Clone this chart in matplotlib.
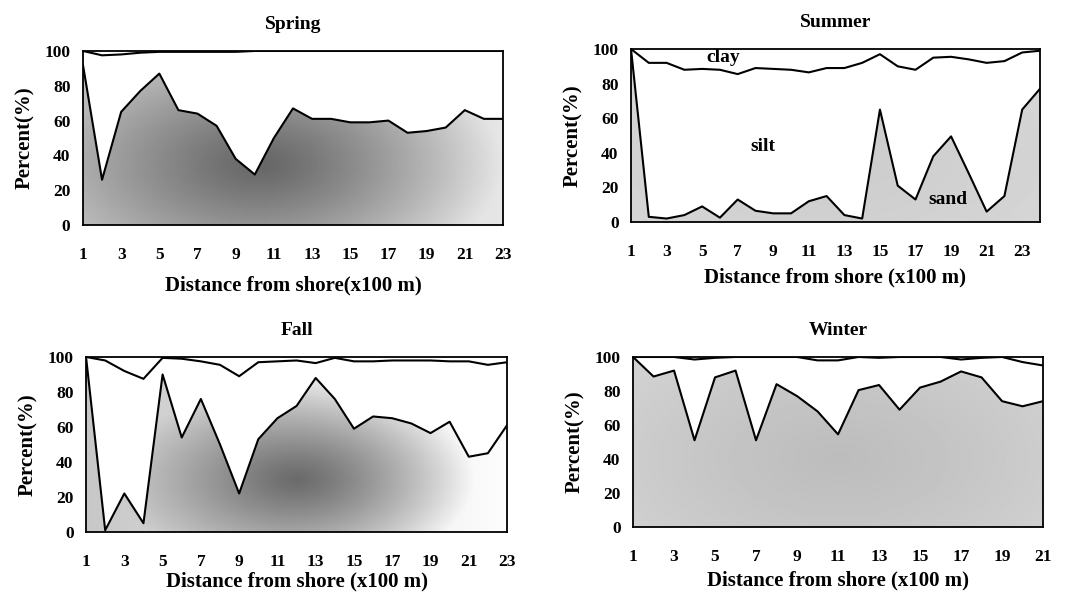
import numpy as np
import matplotlib
matplotlib.use("Agg")
import matplotlib.pyplot as plt
from matplotlib.patches import Polygon

plt.rcParams['font.family'] = ['Liberation Serif', 'DejaVu Serif']
plt.rcParams['font.weight'] = 'bold'

# sand (lower line) and sand+silt (upper line), percent
spring_x = list(range(1, 24))
spring_sand = [92, 26, 65, 77, 87, 66, 64, 57, 38, 29, 50, 67, 61, 61, 59, 59, 60, 53, 54, 56, 66, 61, 61]
spring_silt_top = [100, 97.5, 98, 99, 99.5, 99.5, 99.5, 99.5, 99.5, 100, 100, 100, 100, 100, 100, 100, 100, 100, 100, 100, 100, 100, 100]

summer_x = list(range(1, 25))
summer_sand = [100, 3, 2, 4, 9, 2.5, 13, 6.5, 5, 5, 12, 15, 4, 2, 65, 21, 13, 38, 49.5, 28, 6, 15, 65, 77]
summer_silt_top = [100, 92, 92, 88, 88.5, 88, 85.5, 89, 88.5, 88, 86.5, 89, 89, 92, 97, 90, 88, 95, 95.5, 94, 92, 93, 98, 99]

fall_x = list(range(1, 24))
fall_sand = [100, 1, 22, 5, 90, 54, 76, 50, 22, 53, 65, 72, 88, 76, 59, 66, 65, 62, 56.5, 63, 43, 45, 61]
fall_silt_top = [100, 98, 92, 87.5, 99.5, 99, 97.5, 95.5, 89, 97, 97.5, 98, 96.5, 99.5, 97.5, 97.5, 98, 98, 98, 97.5, 97.5, 95.5, 97]

winter_x = list(range(1, 22))
winter_sand = [100, 88.5, 92, 51, 88, 92, 51, 84, 77, 68, 54.5, 80.5, 83.5, 69, 82, 85.5, 91.5, 88, 74, 71, 74]
winter_silt_top = [100, 100, 100, 98.5, 99.5, 100, 100, 100, 100, 98, 98, 100, 99.5, 100, 100, 100, 98.5, 99.5, 100, 97, 95]

titles = ["Spring", "Summer", "Fall", "Winter"]
xlabels = ["Distance from shore(x100 m)", "Distance from shore (x100 m)",
           "Distance from shore (x100 m)", "Distance from shore (x100 m)"]

fig = plt.figure(figsize=(10.65, 5.92), dpi=100)

rects = [[0.0779, 0.6199, 0.3944, 0.294],
         [0.5925, 0.625, 0.384, 0.2922],
         [0.0808, 0.1014, 0.3953, 0.2956],
         [0.5944, 0.1098, 0.385, 0.2872]]
xlabelpads = [9, 5, 1, 4]

# gradient look of the sand fill:
# (center x frac, center y frac, dark, light at left, light at right, radius)
shades = [(0.42, 0.35, 0.40, 0.80, 0.90, 0.75),
          (0.5, 0.4, 0.80, 0.84, 0.84, 0.8),
          (0.50, 0.30, 0.42, 0.78, 0.99, 0.55),
          (0.5, 0.4, 0.74, 0.82, 0.82, 0.8)]

data = [(spring_x, spring_sand, spring_silt_top),
        (summer_x, summer_sand, summer_silt_top),
        (fall_x, fall_sand, fall_silt_top),
        (winter_x, winter_sand, winter_silt_top)]


def draw_panel(ax, x, sand, top, shade):
    x = np.array(x)
    x0, x1 = x[0], x[-1]
    cx, cy, dark, light_l, light_r, rad = shade
    gx, gy = np.meshgrid(np.linspace(0, 1, 300), np.linspace(0, 1, 150))
    r = np.sqrt(((gx - cx) * 1.3) ** 2 + (gy - cy) ** 2) / rad
    light = light_l + (light_r - light_l) * gx
    img = dark + (light - dark) * np.clip(r, 0, 1) ** 1.2
    im = ax.imshow(img, extent=[x0, x1, 0, 100], origin='lower', aspect='auto',
                   cmap='gray', vmin=0, vmax=1, zorder=1)
    verts = list(zip(x, sand)) + [(x1, 0), (x0, 0)]
    poly = Polygon(verts, closed=True, facecolor='none', edgecolor='none')
    ax.add_patch(poly)
    im.set_clip_path(poly)
    ax.plot(x, sand, color='black', lw=1.5, zorder=3)
    ax.plot(x, top, color='black', lw=1.5, zorder=3)
    ax.set_xlim(x0, x1)
    ax.set_ylim(0, 100)


for i in range(4):
    ax = fig.add_axes(rects[i])
    x, sand, top = data[i]
    draw_panel(ax, x, sand, top, shades[i])
    ax.set_xticks(list(range(1, x[-1] + 1, 2)))
    ax.set_yticks([0, 20, 40, 60, 80, 100])
    ax.tick_params(length=0, labelsize=12.5, pad=9)
    ax.tick_params(axis='x', pad=16)
    for s in ax.spines.values():
        s.set_linewidth(1.3)
    ax.set_title(titles[i], fontsize=14, fontweight='bold', pad=16)
    ax.set_xlabel(xlabels[i], fontsize=15, fontweight='bold', labelpad=xlabelpads[i])
    ax.set_ylabel("Percent(%)", fontsize=15, fontweight='bold', labelpad=7)
    if i == 1:
        ax.text(6.2, 95, "clay", fontsize=14, fontweight='bold', ha='center', va='center', zorder=4)
        ax.text(8.4, 43.5, "silt", fontsize=14, fontweight='bold', ha='center', va='center', zorder=4)
        ax.text(18.8, 13, "sand", fontsize=14, fontweight='bold', ha='center', va='center', zorder=4)

fig.savefig("out.png", dpi=100)
